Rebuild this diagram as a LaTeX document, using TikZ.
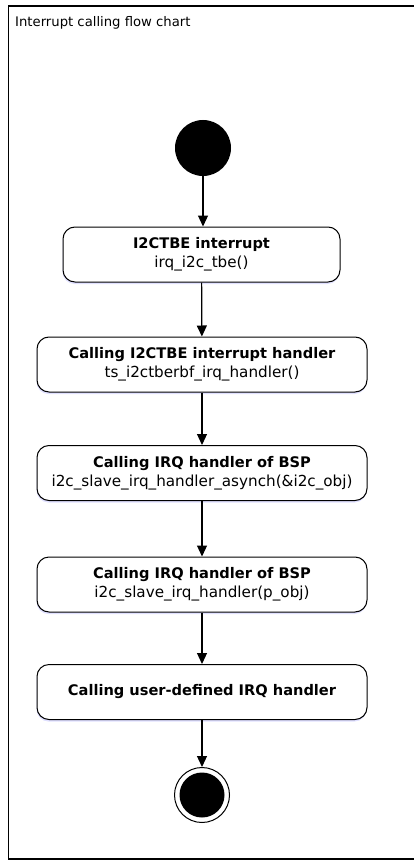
\documentclass[tikz,border=0pt]{standalone}
\usepackage{fontspec}
\setmainfont{DejaVu Sans}
\usetikzlibrary{arrows.meta,shadows}

\newcommand{\callname}[1]{{\fontsize{14.6}{19}\selectfont\bfseries #1}}
\tikzset{
  callbox/.style={draw, line width=1pt, rounded corners=12pt, fill=white,
    minimum width=330pt, minimum height=55pt, align=center, inner sep=2pt,
    font=\fontsize{15.2}{19}\selectfont,
    drop shadow={fill=blue!12, opacity=1, shadow xshift=-0.5pt, shadow yshift=-2pt}},
  flow/.style={line width=1.2pt, -{Triangle[length=11pt,width=10pt]}},
}

\begin{document}
\begin{tikzpicture}[x=1pt,y=-1pt]
\useasboundingbox (0,0) rectangle (414,861);
% frame and title
\draw[line width=1.8pt] (440,6) -- (8.5,6) -- (8.5,859) -- (440,859);
\node[anchor=base west, inner sep=0pt, font=\fontsize{13.2}{15}\selectfont] (title) at (15,27) {Interrupt calling flow chart};
% start and end
\node[circle, fill=black, minimum size=56pt, inner sep=0pt] (start) at (203,148) {};
\node[circle, draw, line width=1pt, minimum size=55pt, inner sep=0pt] (stop) at (202,795) {};
\node[circle, fill=black, minimum size=45pt, inner sep=0pt] (stopdot) at (202,795) {};
% calls
\node[callbox, minimum width=277pt] (tbe) at (201.5,254.5) {\callname{I2CTBE interrupt}\\irq\_i2c\_tbe()};
\node[callbox] (handler) at (202,364.5) {\callname{Calling I2CTBE interrupt handler}\\ts\_i2ctberbf\_irq\_handler()};
\node[callbox] (bspasync) at (202,473) {\callname{Calling IRQ handler of BSP}\\i2c\_slave\_irq\_handler\_asynch(\&i2c\_obj)};
\node[callbox] (bsp) at (202,584.5) {\callname{Calling IRQ handler of BSP}\\i2c\_slave\_irq\_handler(p\_obj)};
\node[callbox] (user) at (202,692) {\callname{Calling user-defined IRQ handler}};
% connectors
\draw[flow] (start) -- (start|-tbe.north);
\draw[flow] (tbe) -- (handler);
\draw[flow] (handler) -- (bspasync);
\draw[flow] (bspasync) -- (bsp);
\draw[flow] (bsp) -- (user);
\draw[flow] (user) -- (stop);
\end{tikzpicture}
\end{document}
